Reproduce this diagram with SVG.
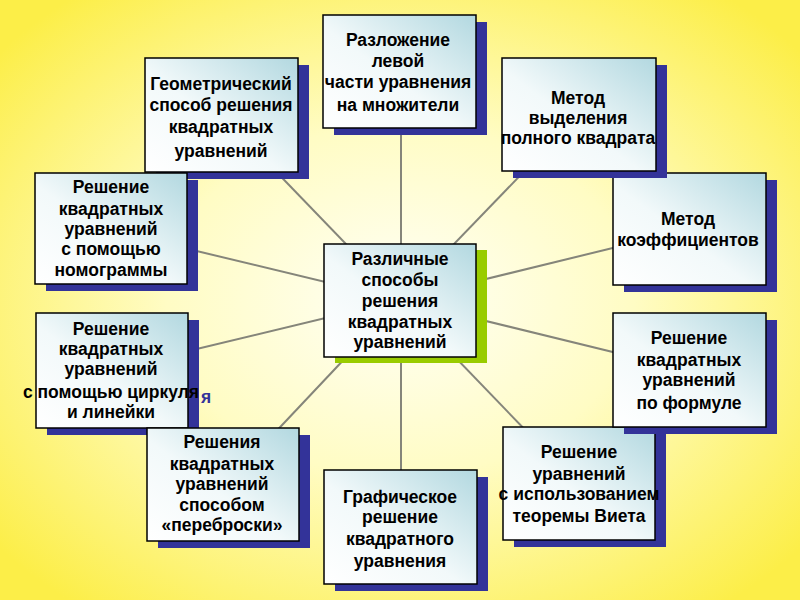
<svg xmlns="http://www.w3.org/2000/svg" width="800" height="600" viewBox="0 0 800 600">
<defs>
<radialGradient id="bg" cx="50%" cy="50%" r="65%">
<stop offset="0" stop-color="#fffff6"/>
<stop offset="0.45" stop-color="#fffcc4"/>
<stop offset="1" stop-color="#fcee48"/>
</radialGradient>
<linearGradient id="bf" x1="0" y1="1" x2="1" y2="0">
<stop offset="0" stop-color="#ffffff"/>
<stop offset="0.45" stop-color="#f2f9fa"/>
<stop offset="1" stop-color="#b2d8e0"/>
</linearGradient>
<style>
.box{fill:url(#bf);stroke:#000;stroke-width:1.5}
.sh{fill:#333399}
.shg{fill:#99cc00}
.t{font-family:'Liberation Sans',Arial,sans-serif;font-weight:bold;font-size:17.5px;text-anchor:middle;fill:#000}
.ln{stroke:#85857a;stroke-width:2;fill:none}
</style>
</defs>
<rect x="0" y="0" width="800" height="600" fill="url(#bg)"/>
<g id="connectors">
<line class="ln" x1="401" y1="300" x2="401" y2="120"/>
<line class="ln" x1="401" y1="300" x2="401" y2="480"/>
<line class="ln" x1="400" y1="300" x2="262" y2="157"/>
<line class="ln" x1="400" y1="300" x2="538" y2="157"/>
<line class="ln" x1="400" y1="300" x2="180" y2="247"/>
<line class="ln" x1="400" y1="300" x2="625" y2="245"/>
<line class="ln" x1="400" y1="300" x2="180" y2="353"/>
<line class="ln" x1="400" y1="300" x2="625" y2="355"/>
<line class="ln" x1="400" y1="300" x2="268" y2="440"/>
<line class="ln" x1="400" y1="300" x2="532" y2="437"/>
</g>
<g id="n-geom">
<rect class="sh" x="156" y="65" width="153" height="114"/>
<rect class="box" x="145" y="58" width="153" height="114"/>
<text class="t" x="221" y="90">Геометрический</text>
<text class="t" x="221" y="111">способ решения</text>
<text class="t" x="221" y="133">квадратных</text>
<text class="t" x="221" y="157">уравнений</text>
</g>
<g id="n-nomo">
<rect class="sh" x="46" y="180" width="152" height="111"/>
<rect class="box" x="35" y="173" width="152" height="111"/>
<text class="t" x="111" y="193">Решение</text>
<text class="t" x="111" y="215">квадратных</text>
<text class="t" x="111" y="235">уравнений</text>
<text class="t" x="111" y="255">с помощью</text>
<text class="t" x="111" y="276">номограммы</text>
</g>
<g id="n-top">
<rect class="sh" x="334" y="22" width="153" height="113"/>
<rect class="box" x="323" y="15" width="153" height="113"/>
<text class="t" x="398" y="46">Разложение</text>
<text class="t" x="398" y="67">левой</text>
<text class="t" x="398" y="88">части уравнения</text>
<text class="t" x="398" y="111">на множители</text>
</g>
<g id="n-koef">
<rect class="sh" x="624" y="180" width="153" height="112"/>
<rect class="box" x="613" y="173" width="153" height="112"/>
<text class="t" x="688" y="225">Метод</text>
<text class="t" x="688" y="246">коэффициентов</text>
</g>
<g id="n-vyd">
<rect class="sh" x="513" y="65" width="154" height="113"/>
<rect class="box" x="502" y="58" width="154" height="113"/>
<text class="t" x="578" y="104">Метод</text>
<text class="t" x="578" y="124">выделения</text>
<text class="t" x="578" y="144">полного квадрата</text>
</g>
<g id="n-vieta">
<rect class="sh" x="514" y="434" width="152" height="113"/>
<rect class="box" x="503" y="427" width="152" height="113"/>
<text class="t" x="579" y="458">Решение</text>
<text class="t" x="579" y="480">уравнений</text>
<text class="t" x="579" y="500">с использованием</text>
<text class="t" x="579" y="522">теоремы Виета</text>
</g>
<g id="n-form">
<rect class="sh" x="624" y="320" width="153" height="114"/>
<rect class="box" x="613" y="313" width="153" height="114"/>
<text class="t" x="689" y="344">Решение</text>
<text class="t" x="689" y="366">квадратных</text>
<text class="t" x="689" y="386">уравнений</text>
<text class="t" x="689" y="409">по формуле</text>
</g>
<g id="n-cirk">
<rect class="sh" x="47" y="320" width="152" height="115"/>
<rect class="box" x="36" y="313" width="152" height="115"/>
<text class="t" x="111" y="335">Решение</text>
<text class="t" x="111" y="355">квадратных</text>
<text class="t" x="111" y="375">уравнений</text>
<text x="206" y="403" style="font-family:'Liberation Sans',Arial,sans-serif;font-weight:bold;font-size:17.5px;text-anchor:middle;fill:#333399">я</text>
<text class="t" x="111" y="398">с помощью циркуля</text>
<text class="t" x="111" y="418">и линейки</text>
</g>
<g id="n-pereb">
<rect class="sh" x="158" y="435" width="152" height="113"/>
<rect class="box" x="147" y="428" width="152" height="113"/>
<text class="t" x="222" y="448">Решения</text>
<text class="t" x="222" y="470">квадратных</text>
<text class="t" x="222" y="490">уравнений</text>
<text class="t" x="222" y="511">способом</text>
<text class="t" x="222" y="531">«переброски»</text>
</g>
<g id="n-graf">
<rect class="sh" x="335" y="477" width="153" height="114"/>
<rect class="box" x="324" y="470" width="153" height="114"/>
<text class="t" x="400" y="503">Графическое</text>
<text class="t" x="400" y="523">решение</text>
<text class="t" x="400" y="545">квадратного</text>
<text class="t" x="400" y="567">уравнения</text>
</g>
<g id="n-center">
<rect class="shg" x="335" y="250" width="152" height="113"/>
<rect class="box" x="324" y="244" width="152" height="113"/>
<text class="t" x="400" y="265">Различные</text>
<text class="t" x="400" y="286">способы</text>
<text class="t" x="400" y="307">решения</text>
<text class="t" x="400" y="328">квадратных</text>
<text class="t" x="400" y="348">уравнений</text>
</g>
</svg>
